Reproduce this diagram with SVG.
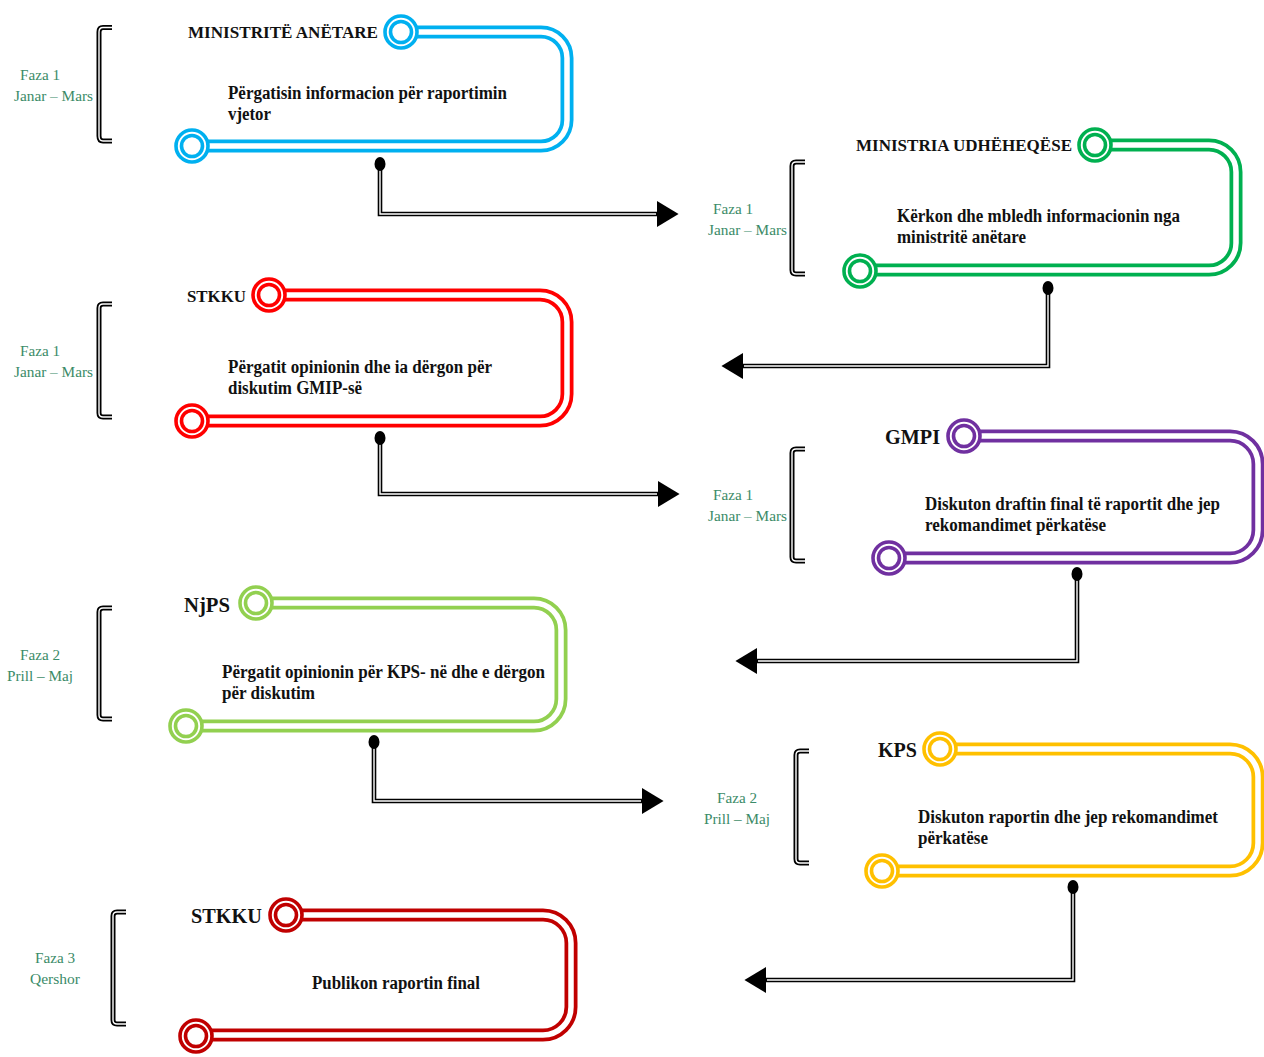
<svg xmlns="http://www.w3.org/2000/svg" width="1264" height="1057" viewBox="0 0 1264 1057">
<style>
  .band{fill:none;stroke-width:13;stroke-linejoin:round}
  .gap{fill:none;stroke:#fff;stroke-width:5.5}
  .ring{fill:#fff;stroke-width:3.6}
  .title{font-family:"Liberation Serif","Times New Roman",serif;font-weight:bold;font-size:17.5px;fill:#111}
  .big{font-size:21px}
  .desc{font-family:"Liberation Serif","Times New Roman",serif;font-weight:bold;font-size:18px;fill:#111}
  .phase{font-family:"Liberation Serif","Times New Roman",serif;font-size:15px;fill:#3B8B68}
  .brk{fill:none;stroke:#000;stroke-width:5;stroke-linejoin:round}
  .brkin{fill:none;stroke:#fff;stroke-width:1.4}
  .cline{fill:none;stroke:#000;stroke-width:4.6}
  .cin{fill:none;stroke:#fff;stroke-width:1.4}
  .blue{stroke:#00B0F0}.green{stroke:#00B050}.red{stroke:#FF0000}.purple{stroke:#7030A0}
  .lgreen{stroke:#92D050}.yellow{stroke:#FFC000}.dred{stroke:#C00000}
</style>
<defs>
  <marker id="arrow" markerUnits="userSpaceOnUse" markerWidth="22" markerHeight="26" refX="1" refY="12" orient="auto" viewBox="0 0 20 24">
    <path d="M0 0 L20 12 L0 24 Z" fill="#000"/>
  </marker>
</defs>

<g id="brackets">
  <g id="bracket-1"><path class="brk" d="M112 27.5 H103 Q99 27.5 99 32 V136 Q99 141 103 141 H112"/><path class="brkin" d="M112 27.5 H103 Q99 27.5 99 32 V136 Q99 141 103 141 H112"/></g>
  <g id="bracket-2"><path class="brk" d="M805 162 H796 Q792 162 792 166 V270 Q792 274 796 274 H805"/><path class="brkin" d="M805 162 H796 Q792 162 792 166 V270 Q792 274 796 274 H805"/></g>
  <g id="bracket-3"><path class="brk" d="M112 304 H103 Q99 304 99 308 V413 Q99 417 103 417 H112"/><path class="brkin" d="M112 304 H103 Q99 304 99 308 V413 Q99 417 103 417 H112"/></g>
  <g id="bracket-4"><path class="brk" d="M805 449 H796 Q792 449 792 453 V557 Q792 561 796 561 H805"/><path class="brkin" d="M805 449 H796 Q792 449 792 453 V557 Q792 561 796 561 H805"/></g>
  <g id="bracket-5"><path class="brk" d="M112 608 H103 Q99 608 99 612 V715 Q99 719 103 719 H112"/><path class="brkin" d="M112 608 H103 Q99 608 99 612 V715 Q99 719 103 719 H112"/></g>
  <g id="bracket-6"><path class="brk" d="M809 751 H800 Q796 751 796 755 V859 Q796 863 800 863 H809"/><path class="brkin" d="M809 751 H800 Q796 751 796 755 V859 Q796 863 800 863 H809"/></g>
  <g id="bracket-7"><path class="brk" d="M126 912 H117 Q113 912 113 916 V1020 Q113 1024 117 1024 H126"/><path class="brkin" d="M126 912 H117 Q113 912 113 916 V1020 Q113 1024 117 1024 H126"/></g>
</g>

<g id="phases">
  <text class="phase" x="20" y="80" textLength="40" lengthAdjust="spacingAndGlyphs">Faza 1</text>
  <text class="phase" x="14" y="101" textLength="79" lengthAdjust="spacingAndGlyphs">Janar – Mars</text>
  <text class="phase" x="713" y="214" textLength="40" lengthAdjust="spacingAndGlyphs">Faza 1</text>
  <text class="phase" x="708" y="235" textLength="79" lengthAdjust="spacingAndGlyphs">Janar – Mars</text>
  <text class="phase" x="20" y="356" textLength="40" lengthAdjust="spacingAndGlyphs">Faza 1</text>
  <text class="phase" x="14" y="377" textLength="79" lengthAdjust="spacingAndGlyphs">Janar – Mars</text>
  <text class="phase" x="713" y="500" textLength="40" lengthAdjust="spacingAndGlyphs">Faza 1</text>
  <text class="phase" x="708" y="521" textLength="79" lengthAdjust="spacingAndGlyphs">Janar – Mars</text>
  <text class="phase" x="20" y="660" textLength="40" lengthAdjust="spacingAndGlyphs">Faza 2</text>
  <text class="phase" x="7" y="681" textLength="66" lengthAdjust="spacingAndGlyphs">Prill – Maj</text>
  <text class="phase" x="717" y="803" textLength="40" lengthAdjust="spacingAndGlyphs">Faza 2</text>
  <text class="phase" x="704" y="824" textLength="66" lengthAdjust="spacingAndGlyphs">Prill – Maj</text>
  <text class="phase" x="35" y="963" textLength="40" lengthAdjust="spacingAndGlyphs">Faza 3</text>
  <text class="phase" x="30" y="984" textLength="50" lengthAdjust="spacingAndGlyphs">Qershor</text>
</g>

<g id="node-1">
  <path class="band blue" d="M400 32 H541 A26 26 0 0 1 567 58 V120 A26 26 0 0 1 541 146 H192"/>
  <path class="gap" d="M400 32 H541 A26 26 0 0 1 567 58 V120 A26 26 0 0 1 541 146 H192"/>
  <circle class="ring blue" cx="401" cy="32" r="16"/><circle class="ring blue" cx="401" cy="32" r="10.5"/>
  <circle class="ring blue" cx="192" cy="146" r="16"/><circle class="ring blue" cx="192" cy="146" r="10.5"/>
  <text class="title" x="188" y="38" textLength="190" lengthAdjust="spacingAndGlyphs">MINISTRITË ANËTARE</text>
  <text class="desc" x="228" y="99" textLength="279" lengthAdjust="spacingAndGlyphs">Përgatisin informacion për raportimin</text>
  <text class="desc" x="228" y="120" textLength="43" lengthAdjust="spacingAndGlyphs">vjetor</text>
</g>

<g id="node-2">
  <path class="band green" d="M1095 145 H1209 A27 27 0 0 1 1236 172 V243 A27 27 0 0 1 1209 270 H860"/>
  <path class="gap" d="M1095 145 H1209 A27 27 0 0 1 1236 172 V243 A27 27 0 0 1 1209 270 H860"/>
  <circle class="ring green" cx="1095" cy="145" r="16"/><circle class="ring green" cx="1095" cy="145" r="10.5"/>
  <circle class="ring green" cx="860" cy="271" r="16"/><circle class="ring green" cx="860" cy="271" r="10.5"/>
  <text class="title" x="856" y="151" textLength="216" lengthAdjust="spacingAndGlyphs">MINISTRIA UDHËHEQËSE</text>
  <text class="desc" x="897" y="222" textLength="283" lengthAdjust="spacingAndGlyphs">Kërkon dhe mbledh informacionin nga</text>
  <text class="desc" x="897" y="243" textLength="129" lengthAdjust="spacingAndGlyphs">ministritë anëtare</text>
</g>

<g id="node-3">
  <path class="band red" d="M269 295 H540 A27 27 0 0 1 567 322 V394 A27 27 0 0 1 540 421 H192"/>
  <path class="gap" d="M269 295 H540 A27 27 0 0 1 567 322 V394 A27 27 0 0 1 540 421 H192"/>
  <circle class="ring red" cx="269" cy="295" r="16"/><circle class="ring red" cx="269" cy="295" r="10.5"/>
  <circle class="ring red" cx="192" cy="421" r="16"/><circle class="ring red" cx="192" cy="421" r="10.5"/>
  <text class="title" x="187" y="302" textLength="59" lengthAdjust="spacingAndGlyphs">STKKU</text>
  <text class="desc" x="228" y="373" textLength="264" lengthAdjust="spacingAndGlyphs">Përgatit opinionin dhe ia dërgon për</text>
  <text class="desc" x="228" y="394" textLength="134" lengthAdjust="spacingAndGlyphs">diskutim GMIP-së</text>
</g>

<g id="node-4">
  <path class="band purple" d="M964 436 H1230 A28 28 0 0 1 1258 464 V530 A28 28 0 0 1 1230 558 H889"/>
  <path class="gap" d="M964 436 H1230 A28 28 0 0 1 1258 464 V530 A28 28 0 0 1 1230 558 H889"/>
  <circle class="ring purple" cx="964" cy="436" r="16"/><circle class="ring purple" cx="964" cy="436" r="10.5"/>
  <circle class="ring purple" cx="889" cy="558" r="16"/><circle class="ring purple" cx="889" cy="558" r="10.5"/>
  <text class="title big" x="885" y="444" textLength="55" lengthAdjust="spacingAndGlyphs">GMPI</text>
  <text class="desc" x="925" y="510" textLength="295" lengthAdjust="spacingAndGlyphs">Diskuton draftin final të raportit dhe jep</text>
  <text class="desc" x="925" y="531" textLength="181" lengthAdjust="spacingAndGlyphs">rekomandimet përkatëse</text>
</g>

<g id="node-5">
  <path class="band lgreen" d="M256 603 H534 A27 27 0 0 1 561 630 V699 A27 27 0 0 1 534 726 H186"/>
  <path class="gap" d="M256 603 H534 A27 27 0 0 1 561 630 V699 A27 27 0 0 1 534 726 H186"/>
  <circle class="ring lgreen" cx="256" cy="603" r="16"/><circle class="ring lgreen" cx="256" cy="603" r="10.5"/>
  <circle class="ring lgreen" cx="186" cy="726" r="16"/><circle class="ring lgreen" cx="186" cy="726" r="10.5"/>
  <text class="title big" x="184" y="612" textLength="46" lengthAdjust="spacingAndGlyphs">NjPS</text>
  <text class="desc" x="222" y="678" textLength="323" lengthAdjust="spacingAndGlyphs">Përgatit opinionin për KPS- në dhe e dërgon</text>
  <text class="desc" x="222" y="699" textLength="93" lengthAdjust="spacingAndGlyphs">për diskutim</text>
</g>

<g id="node-6">
  <path class="band yellow" d="M940 749 H1230 A28 28 0 0 1 1258 777 V843 A28 28 0 0 1 1230 871 H882"/>
  <path class="gap" d="M940 749 H1230 A28 28 0 0 1 1258 777 V843 A28 28 0 0 1 1230 871 H882"/>
  <circle class="ring yellow" cx="940" cy="749" r="16"/><circle class="ring yellow" cx="940" cy="749" r="10.5"/>
  <circle class="ring yellow" cx="882" cy="871" r="16"/><circle class="ring yellow" cx="882" cy="871" r="10.5"/>
  <text class="title big" x="878" y="757" textLength="39" lengthAdjust="spacingAndGlyphs">KPS</text>
  <text class="desc" x="918" y="823" textLength="300" lengthAdjust="spacingAndGlyphs">Diskuton raportin dhe jep rekomandimet</text>
  <text class="desc" x="918" y="844" textLength="70" lengthAdjust="spacingAndGlyphs">përkatëse</text>
</g>

<g id="node-7">
  <path class="band dred" d="M286 915 H543 A28 28 0 0 1 571 943 V1007 A28 28 0 0 1 543 1035 H196"/>
  <path class="gap" d="M286 915 H543 A28 28 0 0 1 571 943 V1007 A28 28 0 0 1 543 1035 H196"/>
  <circle class="ring dred" cx="286" cy="915" r="16"/><circle class="ring dred" cx="286" cy="915" r="10.5"/>
  <circle class="ring dred" cx="196" cy="1036" r="16"/><circle class="ring dred" cx="196" cy="1036" r="10.5"/>
  <text class="title big" x="191" y="923" textLength="71" lengthAdjust="spacingAndGlyphs">STKKU</text>
  <text class="desc" x="312" y="989" textLength="168" lengthAdjust="spacingAndGlyphs">Publikon raportin final</text>
</g>

<g id="connectors">
  <path class="cline" marker-end="url(#arrow)" d="M380 164 V214 H658"/><path class="cin" d="M380 170 V214 H656"/><ellipse cx="380" cy="164" rx="5.5" ry="7"/>
  <path class="cline" marker-end="url(#arrow)" d="M1048 288 V366 H742"/><path class="cin" d="M1048 294 V366 H744"/><ellipse cx="1048" cy="288" rx="5.5" ry="7"/>
  <path class="cline" marker-end="url(#arrow)" d="M380 438 V494 H659"/><path class="cin" d="M380 444 V494 H657"/><ellipse cx="380" cy="438" rx="5.5" ry="7"/>
  <path class="cline" marker-end="url(#arrow)" d="M1077 574 V661 H756"/><path class="cin" d="M1077 580 V661 H758"/><ellipse cx="1077" cy="574" rx="5.5" ry="7"/>
  <path class="cline" marker-end="url(#arrow)" d="M374 742 V801 H643"/><path class="cin" d="M374 748 V801 H641"/><ellipse cx="374" cy="742" rx="5.5" ry="7"/>
  <path class="cline" marker-end="url(#arrow)" d="M1073 887 V980 H765"/><path class="cin" d="M1073 893 V980 H767"/><ellipse cx="1073" cy="887" rx="5.5" ry="7"/>
</g>
</svg>
